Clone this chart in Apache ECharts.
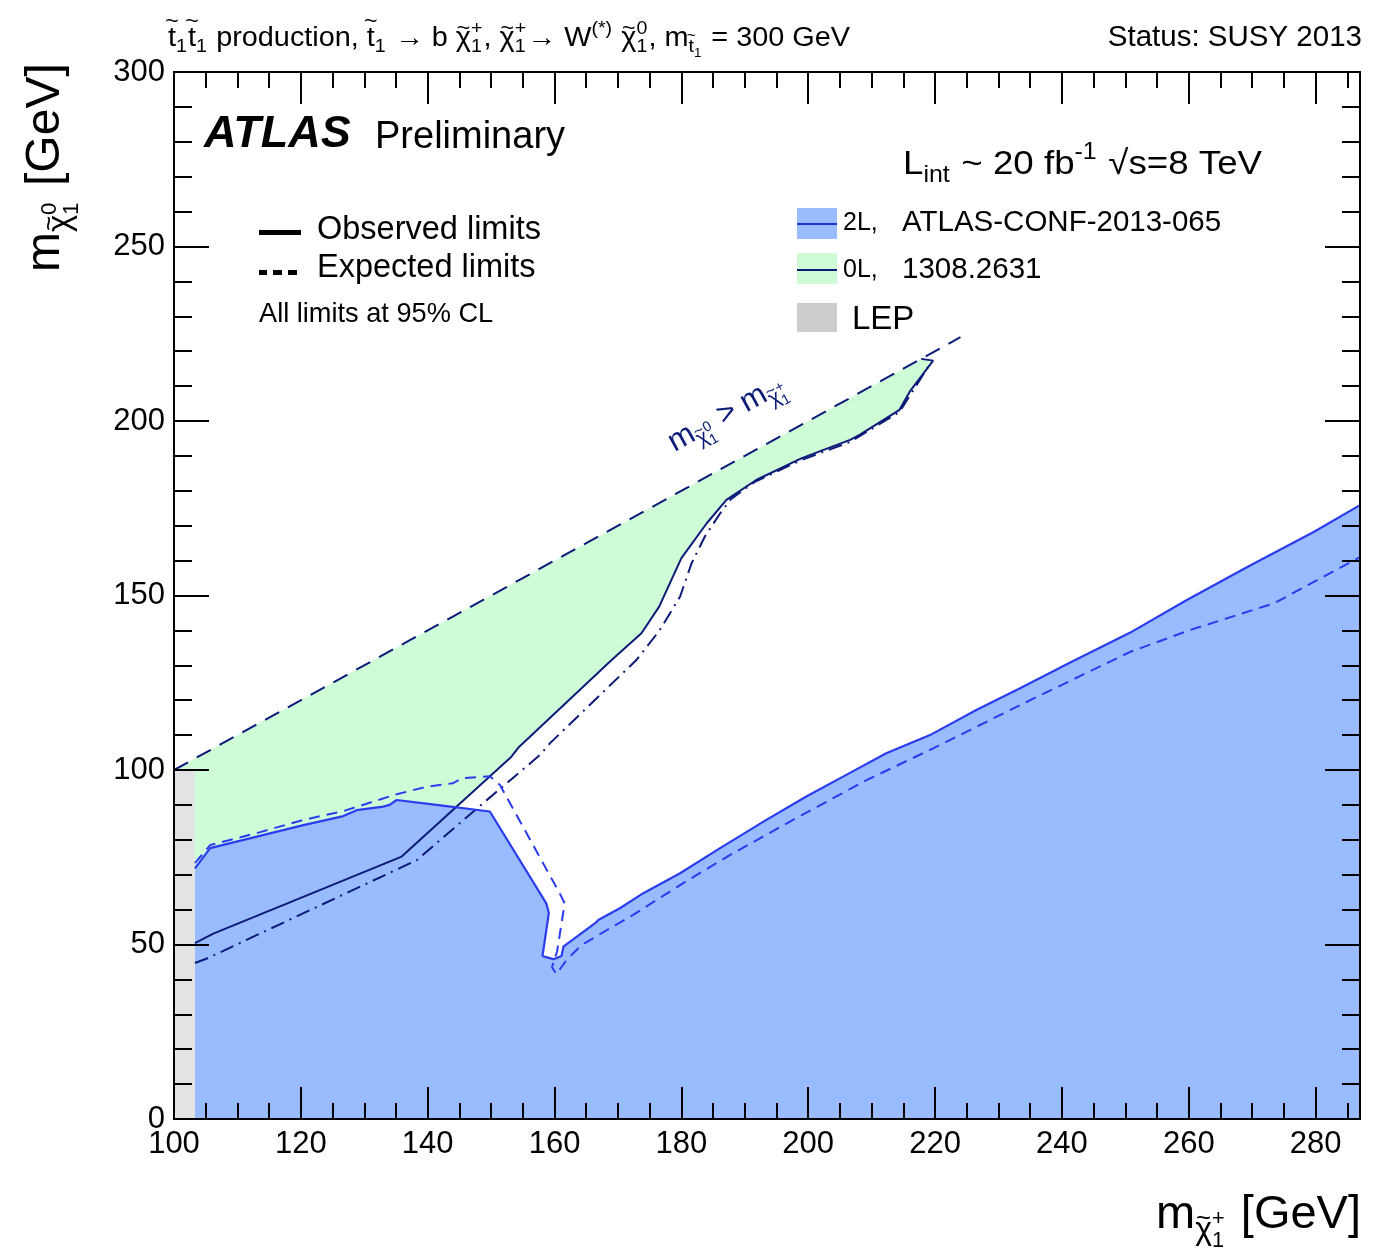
<!DOCTYPE html>
<html>
<head>
<meta charset="utf-8">
<script src="https://cdn.jsdelivr.net/npm/echarts@6/dist/echarts.min.js"></script>
<style>
  html, body { margin: 0; padding: 0; background: #fff; }
  #chart { width: 1394px; height: 1260px; }
</style>
</head>
<body>
<div id="chart"></div>
<script>
// Axis ranges (GeV)
const xRange = [100, 287];
const yRange = [0, 300];

// 2L analysis: observed and expected exclusion contours [m(chargino), m(neutralino)]
const obs2L = [
  [103.3, 71.8], [105.7, 77.6], [120.4, 84.2], [126.7, 86.8], [128.8, 88.5], [133.0, 89.5],
  [134.0, 90.0], [135.1, 91.4], [141.4, 90.0], [149.8, 88.1], [158.7, 61.8], [159.1, 59.0],
  [158.1, 46.7], [159.8, 45.8], [161.1, 46.7], [161.4, 49.4], [166.4, 56.1], [166.9, 57.0],
  [170.3, 60.4], [174.0, 64.7], [179.8, 70.4], [186.1, 77.6], [193.4, 85.7], [199.7, 92.4],
  [206.0, 98.6], [212.3, 104.8], [219.2, 110.0], [226.5, 117.2], [233.4, 123.4], [241.0, 130.5],
  [250.7, 139.3], [259.7, 148.7], [269.6, 158.5], [279.7, 168.2], [287.0, 175.9]
];
const exp2L = [
  [103.3, 73.3], [105.7, 78.5], [113.6, 82.2], [120.4, 85.7], [126.7, 88.2], [134.6, 92.8],
  [139.8, 95.2], [144.0, 96.2], [145.3, 97.6], [149.8, 98.2], [151.4, 95.7], [160.8, 64.7],
  [161.6, 61.8], [160.4, 48.0], [159.6, 43.5], [160.3, 41.5], [161.9, 45.6], [164.3, 49.9],
  [170.3, 56.3], [172.4, 58.5], [180.3, 67.6], [188.2, 76.2], [197.6, 85.7], [209.2, 97.1],
  [219.7, 106.2], [233.4, 118.6], [250.7, 133.8], [260.2, 140.1], [273.5, 147.8], [287.0, 161.0]
];

// 0L analysis: observed and expected exclusion contours
const obs0L = [
  [103.3, 50.4], [106.2, 53.1], [135.9, 75.2], [153.2, 103.8], [154.4, 106.6], [169.0, 131.5],
  [173.7, 139.2], [176.5, 146.8], [180.0, 160.7], [184.0, 170.7], [187.1, 177.4], [191.8, 183.1],
  [198.9, 189.3], [206.6, 194.6], [208.1, 196.0], [214.4, 203.2], [216.0, 208.4], [219.7, 217.3],
  [217.8, 217.8]
];
const exp0L = [
  [103.3, 44.7], [105.2, 46.0], [138.3, 74.2], [146.1, 86.4], [157.7, 104.3], [159.3, 107.7],
  [172.9, 131.5], [176.6, 140.1], [179.8, 149.7], [181.6, 159.2], [183.7, 166.9], [186.1, 173.5],
  [187.8, 177.6], [191.5, 182.5], [198.9, 188.8], [206.6, 194.0], [214.4, 202.6], [216.2, 207.8],
  [219.4, 216.9]
];

// Kinematic boundary m(neutralino) = m(chargino) and the LEP chargino limit
const kinematicLimit = [[100, 100], [224, 224]];
const lepRegion = [[100, 0], [103.3, 0], [103.3, 100], [100, 100]];

const FONT = '"Liberation Sans", Arial, Helvetica, sans-serif';
const BLUE_FILL = '#99bbff';
const BLUE_LINE = '#2b3cef';
const NAVY = '#0c1a78';
const GREEN_FILL = '#cdfcd7';
const LEP_FILL = '#e3e3e3';
const LEP_KEY = '#cccccc';

// ---------- text helpers (baseline-based layout with sub/superscripts) ----------
const mctx = document.createElement('canvas').getContext('2d');
function measure(t, size, weight, style) {
  mctx.font = (style || 'normal') + ' ' + (weight || 'normal') + ' ' + size + 'px ' + FONT;
  return mctx.measureText(t).width;
}
const MID = 0.31;
function txt(t, x, base, size, color, extra) {
  return {
    type: 'text', silent: true,
    style: Object.assign({
      text: t, x: x, y: base - MID * size, fontSize: size, fontFamily: FONT,
      fill: color, textAlign: 'left', textVerticalAlign: 'middle'
    }, extra || {})
  };
}
function layout(tokens, s, x, base, color, out) {
  const list = Array.isArray(tokens) ? tokens : [tokens];
  for (const tk of list) {
    if (typeof tk === 'string') {
      out.push(txt(tk, x, base, s, color));
      x += measure(tk, s);
    } else if (tk.b !== undefined) {
      const w = measure(tk.b, s);
      out.push(txt(tk.b, x, base, s, color));
      if (tk.tilde) {
        const ts = s * 0.8;
        const h = (tk.tall ? 0.92 : 0.68) * s;
        out.push({
          type: 'text', silent: true,
          style: { text: '~', x: x + w / 2, y: base - h, fontSize: ts, fontFamily: FONT,
                   fill: color, textAlign: 'center', textVerticalAlign: 'middle' }
        });
      }
      x += w;
    } else {
      const ss = s * 0.68;
      let w = 0;
      if (tk.sup !== undefined) w = Math.max(w, layout(tk.sup, ss, x, base - 0.45 * s, color, out) - x);
      if (tk.sub !== undefined) w = Math.max(w, layout(tk.sub, ss, x, base + 0.22 * s, color, out) - x);
      x += w + s * 0.04;
    }
  }
  return x;
}
function mathGroup(tokens, size, color, x, y, opts) {
  const children = [];
  const width = layout(tokens, size, 0, 0, color, children);
  const g = Object.assign({ type: 'group', x: x, y: y, silent: true, children: children }, opts || {});
  if (opts && opts.fitWidth) { g.scaleX = opts.fitWidth / width; delete g.fitWidth; }
  return g;
}

const chi = { b: '\u03c7', tilde: true };
const stop = { b: 't', tilde: true, tall: true };

// ---------- annotations ----------
const graphics = [];

// header line
graphics.push(mathGroup([
  stop, { sub: '1' }, stop, { sub: '1' }, ' production, ', stop, { sub: '1' }, ' \u2192 b ',
  chi, { sup: '+', sub: '1' }, ', ', chi, { sup: '+', sub: '1' }, '\u2192 W', { sup: '(*)' }, ' ',
  chi, { sup: '0', sub: '1' }, ', m', { sub: [stop, { sub: '1' }] }, ' = 300 GeV'
], 27, '#000', 168, 47, { fitWidth: 682 }));
graphics.push(txt('Status: SUSY 2013', 1362, 47, 29.5, '#000', { textAlign: 'right' }));

// ATLAS label
graphics.push(txt('ATLAS', 204, 149, 45, '#000', { fontWeight: 'bold', fontStyle: 'italic' }));
graphics.push(txt('Preliminary', 375, 149, 38, '#000'));

// line-style key
graphics.push({ type: 'rect', silent: true, shape: { x: 259, y: 230, width: 42, height: 5 }, style: { fill: '#000' } });
[[259, 8], [273, 9], [288, 9]].forEach(d => graphics.push({
  type: 'rect', silent: true, shape: { x: d[0], y: 270, width: d[1], height: 5 }, style: { fill: '#000' }
}));
graphics.push(txt('Observed limits', 317, 240, 32.5, '#000'));
graphics.push(txt('Expected limits', 317, 278, 32.5, '#000'));
graphics.push(txt('All limits at 95% CL', 259, 323, 27.2, '#000'));

// luminosity / energy
graphics.push(mathGroup(['L', { sub: 'int' }, ' ~ 20 fb', { sup: '-1' }, ' \u221as=8 TeV'],
  34, '#000', 903, 175, { fitWidth: 359 }));

// analysis key
graphics.push({ type: 'rect', silent: true, shape: { x: 797, y: 208, width: 40, height: 31 }, style: { fill: BLUE_FILL } });
graphics.push({ type: 'line', silent: true, shape: { x1: 797, y1: 224, x2: 837, y2: 224 }, style: { stroke: '#1f35c8', lineWidth: 2 } });
graphics.push({ type: 'rect', silent: true, shape: { x: 797, y: 253, width: 40, height: 31 }, style: { fill: GREEN_FILL } });
graphics.push({ type: 'line', silent: true, shape: { x1: 797, y1: 270, x2: 837, y2: 270 }, style: { stroke: NAVY, lineWidth: 2 } });
graphics.push({ type: 'rect', silent: true, shape: { x: 797, y: 303, width: 40, height: 29 }, style: { fill: LEP_KEY } });
graphics.push(txt('2L,', 843, 231, 25, '#000'));
graphics.push(txt('ATLAS-CONF-2013-065', 902, 232, 29.5, '#000'));
graphics.push(txt('0L,', 843, 278, 25, '#000'));
graphics.push(txt('1308.2631', 902, 279, 29.5, '#000'));
graphics.push(txt('LEP', 852, 330, 33, '#000'));

// kinematic boundary label
graphics.push(mathGroup(['m', { sub: [chi, { sup: '0', sub: '1' }] }, ' > m', { sub: [chi, { sup: '+', sub: '1' }] }],
  31, NAVY, 675, 453, { rotation: Math.atan2(3.49, 6.344) }));

// axis titles
graphics.push(mathGroup(['m', { sub: [chi, { sup: '0', sub: '1' }] }, ' [GeV]'],
  48, '#000', 61, 272, { rotation: Math.PI / 2 }));
graphics.push(mathGroup(['m', { sub: [chi, { sup: '+', sub: '1' }] }, ' [GeV]'],
  47, '#000', 1156, 1230));

// ---------- axes ----------
const AXIS_LINE = { show: true, onZero: false, lineStyle: { color: '#000', width: 2 } };
function xAx(pos, interval, len, labels) {
  return {
    type: 'value', min: xRange[0], max: xRange[1], interval: interval, position: pos, z: 10,
    axisLine: AXIS_LINE, splitLine: { show: false },
    axisTick: { show: true, inside: true, length: len, lineStyle: { color: '#000', width: 2 } },
    axisLabel: labels
      ? { show: true, margin: 10, fontSize: 31, color: '#000', fontFamily: FONT, showMinLabel: true, showMaxLabel: false }
      : { show: false }
  };
}
function yAx(pos, labels) {
  return {
    type: 'value', min: yRange[0], max: yRange[1], interval: 50, position: pos, z: 10,
    axisLine: AXIS_LINE, splitLine: { show: false },
    axisTick: { show: true, inside: true, length: 35, lineStyle: { color: '#000', width: 2 } },
    minorTick: { show: true, splitNumber: 5, length: 18, lineStyle: { color: '#000', width: 2 } },
    minorSplitLine: { show: false },
    axisLabel: labels
      ? { show: true, margin: 9, fontSize: 31, color: '#000', fontFamily: FONT }
      : { show: false }
  };
}

// ---------- series ----------
function polygonSeries(name, points, color, z) {
  return {
    type: 'custom', name: name, coordinateSystem: 'cartesian2d', xAxisIndex: 0, yAxisIndex: 0,
    z: z, silent: true, clip: true,
    data: [points[0]],
    renderItem: function (params, api) {
      return {
        type: 'polygon',
        shape: { points: points.map(p => api.coord(p)) },
        style: { fill: color, stroke: null, lineWidth: 0 }
      };
    }
  };
}
function lineSeries(name, data, color, type, width, z) {
  return {
    type: 'line', name: name, data: data, xAxisIndex: 0, yAxisIndex: 0, z: z,
    showSymbol: false, symbol: 'none', smooth: false, silent: true, clip: true,
    lineStyle: { color: color, width: width, type: type }
  };
}

const greenRegion = kinematicLimit.slice(0, 1).concat([[217.8, 217.8]], obs0L.slice().reverse(), [[100, 50.4]]);
const blueRegion = obs2L.concat([[xRange[1], 0], [103.3, 0]]);

const option = {
  animation: false,
  backgroundColor: '#fff',
  grid: { left: 174, right: 34, top: 72, bottom: 141, containLabel: false },
  xAxis: [
    xAx('bottom', 20, 32, true),
    xAx('bottom', 5, 16, false),
    xAx('top', 20, 32, false),
    xAx('top', 5, 16, false)
  ],
  yAxis: [yAx('left', true), yAx('right', false)],
  series: [
    polygonSeries('0L excluded', greenRegion, GREEN_FILL, 1),
    polygonSeries('2L excluded', blueRegion, BLUE_FILL, 2),
    polygonSeries('LEP', lepRegion, LEP_FILL, 3),
    lineSeries('kinematic limit', kinematicLimit, NAVY, [16, 10], 2, 4),
    lineSeries('0L expected', exp0L, NAVY, [14, 6, 2, 6], 2, 5),
    lineSeries('0L observed', obs0L, NAVY, 'solid', 2, 6),
    lineSeries('2L expected', exp2L, BLUE_LINE, [11, 7], 2, 7),
    lineSeries('2L observed', obs2L, BLUE_LINE, 'solid', 2.2, 8)
  ],
  graphic: { elements: graphics }
};

const chart = echarts.init(document.getElementById('chart'), null, { renderer: 'canvas' });
chart.setOption(option);
</script>
</body>
</html>
